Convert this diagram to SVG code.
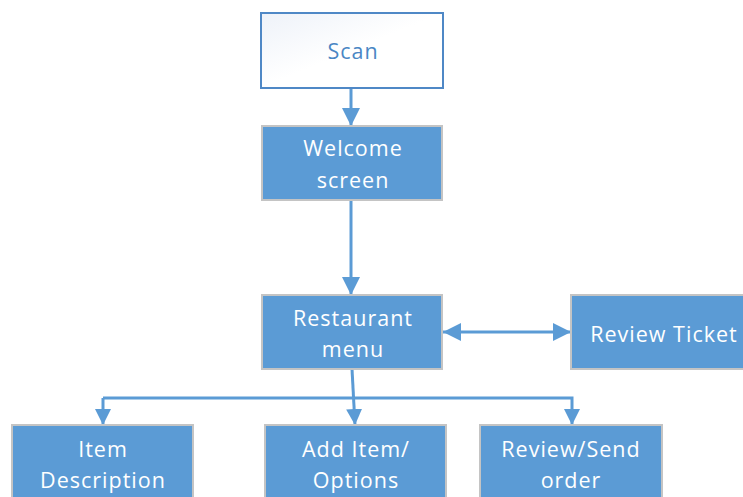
<svg xmlns="http://www.w3.org/2000/svg" width="743" height="497" viewBox="0 0 743 497">
  <defs>
    <linearGradient id="scanFill" x1="0" y1="0" x2="1" y2="1">
      <stop offset="0" stop-color="#eef2f9"/>
      <stop offset="0.5" stop-color="#ffffff"/>
      <stop offset="1" stop-color="#ffffff"/>
    </linearGradient>
    <marker id="head" viewBox="0 0 18 18" refX="18" refY="9" markerWidth="18" markerHeight="18" markerUnits="userSpaceOnUse" orient="auto-start-reverse">
      <path d="M0,0 L18,9 L0,18 Z" fill="#5b9bd5"/>
    </marker>
    <marker id="headSm" viewBox="0 0 16 16" refX="16" refY="8" markerWidth="16" markerHeight="16" markerUnits="userSpaceOnUse" orient="auto">
      <path d="M0,0 L16,8 L0,16 Z" fill="#5b9bd5"/>
    </marker>
  </defs>
  <style>
    .box { fill: #5b9bd5; stroke: #c4c4c4; stroke-width: 2; }
    .lbl { font-family: "Open Sans", "Liberation Sans", sans-serif; font-size: 21.5px; letter-spacing: 1px; fill: #ffffff; text-anchor: middle; }
    .wire { fill: none; stroke: #5b9bd5; stroke-width: 3; }
  </style>

  <rect width="743" height="497" fill="#ffffff"/>

  <g id="connectors">
    <path class="wire" d="M351,88 L351,126" marker-end="url(#head)"/>
    <path class="wire" d="M351,200 L351,295" marker-end="url(#head)"/>
    <path class="wire" d="M443,332 L571,332" marker-start="url(#head)" marker-end="url(#head)"/>
    <path class="wire" d="M352,369 L355,425" marker-end="url(#headSm)"/>
    <path class="wire" d="M103,398 L572,398 L572,425" marker-end="url(#headSm)"/>
    <path class="wire" d="M103,398 L103,425" marker-end="url(#headSm)"/>
  </g>

  <g id="scan">
    <rect x="261" y="13" width="182" height="75" fill="url(#scanFill)" stroke="#4f88c6" stroke-width="2"/>
    <text class="lbl" x="353" y="59" style="fill:#4a86c4">Scan</text>
  </g>

  <g id="welcome">
    <rect class="box" x="262" y="126" width="180" height="74"/>
    <text class="lbl" x="353" y="156">Welcome</text>
    <text class="lbl" x="353" y="188">screen</text>
  </g>

  <g id="restaurant-menu">
    <rect class="box" x="262" y="295" width="180" height="74"/>
    <text class="lbl" x="353" y="326">Restaurant</text>
    <text class="lbl" x="353" y="357">menu</text>
  </g>

  <g id="review-ticket">
    <rect class="box" x="571" y="295" width="185" height="74"/>
    <text class="lbl" x="664" y="342">Review Ticket</text>
  </g>

  <g id="item-description">
    <rect class="box" x="12" y="425" width="181" height="80"/>
    <text class="lbl" x="103" y="457">Item</text>
    <text class="lbl" x="103" y="488">Description</text>
  </g>

  <g id="add-item">
    <rect class="box" x="265" y="425" width="181" height="80"/>
    <text class="lbl" x="356" y="457">Add Item/</text>
    <text class="lbl" x="356" y="488">Options</text>
  </g>

  <g id="review-send">
    <rect class="box" x="480" y="425" width="182" height="80"/>
    <text class="lbl" x="571" y="457">Review/Send</text>
    <text class="lbl" x="571" y="488">order</text>
  </g>
</svg>
